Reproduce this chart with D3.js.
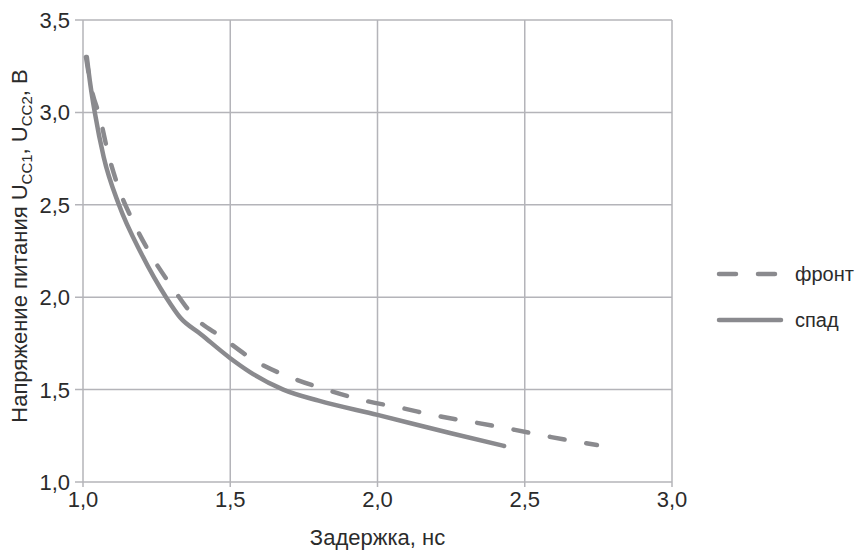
<!DOCTYPE html>
<html>
<head>
<meta charset="utf-8">
<script src="https://cdnjs.cloudflare.com/ajax/libs/d3/7.8.5/d3.min.js"></script>
<style>
  body { margin: 0; background: #fff; }
  text { font-family: "Liberation Sans", Arial, sans-serif; fill: #2b2b2b; }
</style>
</head>
<body>
<svg id="chart" width="859" height="553"></svg>
<script>
// Data: delay (ns) vs supply voltage (V)
const frontX = [1.01, 1.03, 1.058, 1.085, 1.119, 1.17, 1.234, 1.302, 1.38, 1.47, 1.59, 1.71, 1.83, 1.958, 2.083, 2.205, 2.338, 2.467, 2.59, 2.745];
const frontY = [3.30, 3.12, 2.97, 2.78, 2.60, 2.41, 2.22, 2.056, 1.89, 1.785, 1.65, 1.563, 1.498, 1.44, 1.40, 1.357, 1.32, 1.282, 1.243, 1.20];
const fallX = [1.013, 1.025, 1.04, 1.07, 1.122, 1.2, 1.282, 1.33, 1.40, 1.5, 1.567, 1.68, 1.8, 2.0, 2.246, 2.43];
const fallY = [3.30, 3.15, 3.00, 2.76, 2.50, 2.23, 2.00, 1.89, 1.80, 1.67, 1.595, 1.50, 1.44, 1.363, 1.265, 1.195];
const xTicks = [1.0, 1.5, 2.0, 2.5, 3.0];
const yTicks = [1.0, 1.5, 2.0, 2.5, 3.0, 3.5];
const seriesNames = ['фронт', 'спад'];

const lineColor = '#8a8a8e';
const gridColor = '#b4b4b9';
const fmt = d => d3.format('.1f')(d).replace('.', ',');

const svg = d3.select('#chart');
const x = d3.scaleLinear().domain([1, 3]).range([83, 672]);
const y = d3.scaleLinear().domain([1, 3.5]).range([482, 20]);

// Grid lines
svg.append('g')
  .selectAll('line')
  .data(xTicks)
  .enter().append('line')
  .attr('x1', d => x(d)).attr('x2', d => x(d))
  .attr('y1', y(3.5)).attr('y2', y(1) + 5)
  .attr('stroke', gridColor).attr('stroke-width', 1.5);

svg.append('g')
  .selectAll('line')
  .data(yTicks)
  .enter().append('line')
  .attr('x1', x(1) - 8).attr('x2', x(3))
  .attr('y1', d => y(d)).attr('y2', d => y(d))
  .attr('stroke', gridColor).attr('stroke-width', 1.5);

// Tick labels
svg.append('g')
  .selectAll('text')
  .data(yTicks)
  .enter().append('text')
  .attr('x', 70)
  .attr('y', d => y(d) + 8)
  .attr('text-anchor', 'end')
  .attr('font-size', 22)
  .text(fmt);

svg.append('g')
  .selectAll('text')
  .data(xTicks)
  .enter().append('text')
  .attr('x', d => x(d))
  .attr('y', 507)
  .attr('text-anchor', 'middle')
  .attr('font-size', 22)
  .text(fmt);

// Axis titles
svg.append('text')
  .attr('x', (x(1) + x(3)) / 2)
  .attr('y', 545)
  .attr('text-anchor', 'middle')
  .attr('font-size', 22)
  .text('Задержка, нс');

const yLabel = svg.append('text')
  .attr('transform', `translate(27, 246) rotate(-90)`)
  .attr('text-anchor', 'middle')
  .attr('font-size', 22);
yLabel.append('tspan').text('Напряжение питания U');
yLabel.append('tspan').attr('font-size', 15).attr('dy', 5).text('CC1');
yLabel.append('tspan').attr('dy', -5).text(', U');
yLabel.append('tspan').attr('font-size', 15).attr('dy', 5).text('CC2');
yLabel.append('tspan').attr('dy', -5).text(', В');

// Curves
const line = d3.line()
  .x(d => x(d[0]))
  .y(d => y(d[1]))
  .curve(d3.curveMonotoneX);

svg.append('path')
  .datum(fallX.map((v, i) => [v, fallY[i]]))
  .attr('d', line)
  .attr('fill', 'none')
  .attr('stroke', lineColor)
  .attr('stroke-width', 4.5)
  .attr('stroke-linecap', 'round');

svg.append('path')
  .datum(frontX.map((v, i) => [v, frontY[i]]))
  .attr('d', line)
  .attr('fill', 'none')
  .attr('stroke', lineColor)
  .attr('stroke-width', 4.5)
  .attr('stroke-linecap', 'round')
  .attr('stroke-dasharray', '15,22');

// Legend
const legend = svg.append('g');
legend.append('line')
  .attr('x1', 719).attr('x2', 780).attr('y1', 274).attr('y2', 274)
  .attr('stroke', lineColor).attr('stroke-width', 4.5)
  .attr('stroke-linecap', 'round').attr('stroke-dasharray', '17,22');
legend.append('line')
  .attr('x1', 719).attr('x2', 781).attr('y1', 320).attr('y2', 320)
  .attr('stroke', lineColor).attr('stroke-width', 4.5)
  .attr('stroke-linecap', 'round');
legend.selectAll('text.leg')
  .data(seriesNames)
  .enter().append('text')
  .attr('x', 795)
  .attr('y', (d, i) => 281 + i * 46)
  .attr('font-size', 20)
  .text(d => d);
</script>
</body>
</html>
